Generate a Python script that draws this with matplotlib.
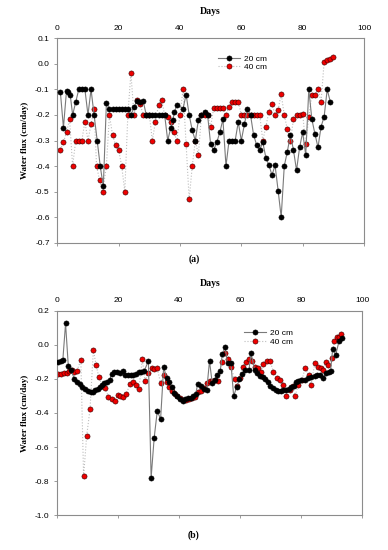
import matplotlib
matplotlib.use("Agg")
import matplotlib.pyplot as plt
from matplotlib.ticker import FormatStrFormatter

plt.rcParams['axes.unicode_minus'] = False

# (a) water flux, 20 cm depth
days_a20 = [1, 2, 3, 3.6, 4.2, 5, 6, 7, 8, 9, 10, 11, 12, 13, 14, 15, 16,
            17, 18, 19, 20, 21, 22, 23, 24, 25, 26, 27, 28, 29, 30,
            31, 32, 33, 34, 35, 36, 37, 37.6, 38.2, 39, 41, 42, 43, 44, 45,
            46, 47, 48, 49, 50, 51, 52, 53, 54, 55, 56, 57, 58, 59, 60,
            61, 62, 63, 64, 65, 66, 67, 68, 69, 70, 71, 72, 73, 74, 75,
            76, 77, 78, 79, 80, 81, 82, 83, 84, 85, 86, 87, 88, 89]
flux_a20 = [-0.11, -0.25, -0.105, -0.11, -0.12, -0.2, -0.15, -0.1, -0.1, -0.1,
            -0.2, -0.1, -0.2, -0.3, -0.4, -0.48, -0.155,
            -0.175, -0.175, -0.175, -0.175, -0.175, -0.175, -0.175, -0.2,
            -0.17, -0.145, -0.15, -0.145, -0.2, -0.2,
            -0.2, -0.2, -0.2, -0.2, -0.2, -0.3, -0.25, -0.22, -0.19, -0.16,
            -0.175, -0.12, -0.2, -0.26, -0.3,
            -0.22, -0.2, -0.19, -0.2, -0.315, -0.337, -0.307, -0.268, -0.217,
            -0.4, -0.3, -0.3, -0.3, -0.228, -0.3,
            -0.237, -0.178, -0.2, -0.278, -0.318, -0.337, -0.307, -0.367,
            -0.396, -0.436, -0.397, -0.496, -0.6, -0.4, -0.344,
            -0.278, -0.337, -0.417, -0.327, -0.268, -0.357, -0.1, -0.217,
            -0.274, -0.327, -0.246, -0.207, -0.1, -0.148]

# (a) water flux, 40 cm depth
days_a40 = [1, 2, 3, 4, 5, 6, 7, 8, 9, 10, 11, 12, 12.8, 13.8, 14.8, 16,
            17, 18, 19, 20, 21, 22, 23, 24, 25, 26, 27, 28, 29, 30,
            31, 32, 33, 34, 35, 36, 37, 38, 39, 40, 41, 42, 43, 44, 45,
            46, 47, 48, 49, 50, 51, 52, 53, 54, 55, 56, 57, 58, 59, 60,
            61, 62, 63, 64, 65, 66, 67, 68, 69, 70, 71, 72, 73, 74, 75,
            76, 77, 78, 79, 80, 81, 82, 83, 84, 85, 86, 87, 88, 89, 90]
flux_a40 = [-0.337, -0.307, -0.268, -0.217, -0.4, -0.3, -0.3, -0.3, -0.226,
            -0.3, -0.237, -0.178, -0.4, -0.456, -0.5, -0.4,
            -0.2, -0.278, -0.318, -0.338, -0.4, -0.5, -0.2, -0.036, -0.2,
            -0.14, -0.157, -0.2, -0.2, -0.2,
            -0.3, -0.226, -0.16, -0.14, -0.2, -0.207, -0.226, -0.268, -0.3,
            -0.2, -0.1, -0.315, -0.53, -0.4, -0.3,
            -0.357, -0.2, -0.2, -0.2, -0.246, -0.172, -0.172, -0.172, -0.172,
            -0.2, -0.168, -0.148, -0.148, -0.148, -0.2,
            -0.2, -0.2, -0.2, -0.2, -0.2, -0.2, -0.3, -0.246, -0.187, -0.157,
            -0.2, -0.18, -0.118, -0.2, -0.256,
            -0.3, -0.217, -0.2, -0.2, -0.195, -0.315, -0.207, -0.122, -0.122,
            -0.1, -0.148, 0.008, 0.015, 0.02, 0.026]

# (b) water flux, 20 cm depth
days_b20 = [0.5, 1.4, 2.0, 2.9, 3.8, 4.7, 5.8, 6.6, 7.5, 8.4, 9.3, 10.2, 11.1,
            11.8, 12.6, 13.4, 14.1, 14.9, 15.6, 16.5, 17.3, 18.0, 18.9, 19.8,
            20.7, 21.7, 22.5, 23.4, 24.2, 25.1, 26.0, 26.8, 27.7, 28.6, 30.0,
            30.9, 31.9, 32.9, 34.0, 35.0, 36.0, 36.8, 37.6, 38.5, 39.4, 40.3,
            41.2, 42.0, 42.9, 43.8, 44.7, 45.5, 46.1, 47.2, 48.1, 49.1, 50.0,
            50.9, 51.8, 52.6, 53.5, 54.2, 55.1, 55.9, 57.0, 57.9, 58.9, 59.8,
            60.7, 61.6, 62.9, 63.6, 64.8, 65.7, 66.5, 67.4, 68.2, 69.1, 69.9,
            70.8, 71.6, 72.5, 73.4, 74.2, 75.1, 76.0, 76.8, 77.5, 78.2, 79.1,
            80.1, 81.2, 82.3, 83.3, 84.4, 85.2, 86.0, 87.1, 88.2, 89.0, 89.6,
            90.3, 91.3, 92.4, 93.5]
flux_b20 = [-0.10, -0.095, -0.09, 0.125, -0.125, -0.15, -0.20, -0.218, -0.232,
            -0.248, -0.26, -0.27, -0.279, -0.277, -0.266, -0.257, -0.245,
            -0.235, -0.226, -0.216, -0.207, -0.171, -0.158, -0.158, -0.163,
            -0.155, -0.177, -0.178, -0.178, -0.178, -0.171, -0.158, -0.158,
            -0.155, -0.095, -0.78, -0.545, -0.39, -0.435, -0.13, -0.197, -0.22,
            -0.25, -0.28, -0.30, -0.32, -0.33, -0.32, -0.31, -0.31, -0.30,
            -0.29, -0.23, -0.242, -0.26, -0.265, -0.095, -0.226, -0.206,
            -0.177, -0.155, -0.054, -0.015, -0.109, -0.105, -0.30, -0.249,
            -0.20, -0.17, -0.15, -0.148, -0.05, -0.148, -0.166, -0.183, -0.19,
            -0.203, -0.22, -0.242, -0.255, -0.265, -0.27, -0.27, -0.268,
            -0.265, -0.26, -0.25, -0.24, -0.218, -0.215, -0.207, -0.205,
            -0.197, -0.19, -0.183, -0.18, -0.177, -0.197, -0.165, -0.16,
            -0.155, -0.025, -0.058, 0.022, 0.042]

# (b) water flux, 40 cm depth
days_b40 = [0.5, 1.4, 2.4, 3.3, 4.1, 5.0, 5.8, 6.6, 7.9, 8.8, 9.8, 10.9, 12.0,
            12.9, 13.8, 15.0, 15.9, 16.9, 18.0, 19.0, 19.9, 20.8, 21.8, 22.8,
            23.9, 24.9, 25.9, 26.9, 28.0, 28.9, 30.0, 31.1, 32.0, 32.9, 34.0,
            35.0, 36.0, 36.9, 37.7, 38.6, 39.5, 40.5, 41.4, 42.3, 43.2, 44.2,
            45.1, 46.1, 47.1, 48.1, 49.1, 50.0, 50.9, 51.8, 52.9, 54.0, 55.1,
            56.0, 57.0, 58.2, 58.9, 59.9, 60.9, 61.9, 62.9, 64.0, 64.9, 65.8,
            66.9, 67.6, 68.7, 69.8, 70.9, 72.0, 73.1, 74.2, 75.1, 76.2, 77.2,
            78.0, 79.1, 80.2, 81.3, 82.4, 83.2, 84.5, 85.6, 86.4, 87.2, 88.0,
            88.9, 90.0, 90.8, 91.6, 92.4, 93.0]
flux_b40 = [-0.171, -0.171, -0.167, -0.164, -0.155, -0.148, -0.158, -0.154,
            -0.089, -0.77, -0.535, -0.378, -0.03, -0.12, -0.19, -0.241, -0.255,
            -0.304, -0.32, -0.328, -0.296, -0.298, -0.308, -0.289, -0.232,
            -0.216, -0.235, -0.26, -0.085, -0.21, -0.167, -0.138, -0.142,
            -0.138, -0.226, -0.177, -0.216, -0.25, -0.269, -0.289, -0.30,
            -0.314, -0.325, -0.325, -0.32, -0.314, -0.306, -0.277, -0.269,
            -0.255, -0.226, -0.212, -0.212, -0.206, -0.212, -0.10, -0.05,
            -0.085, -0.128, -0.20, -0.242, -0.197, -0.128, -0.10, -0.085,
            -0.094, -0.128, -0.138, -0.158, -0.113, -0.095, -0.095, -0.158,
            -0.197, -0.207, -0.236, -0.298, -0.265, -0.242, -0.298, -0.236,
            -0.207, -0.138, -0.177, -0.236, -0.105, -0.128, -0.138, -0.148,
            -0.099, -0.118, -0.079, 0.024, 0.044, 0.048, 0.063]

series_labels = ["20 cm", "40 cm"]

W, H = 388, 550
fig = plt.figure(figsize=(W / 100, H / 100), dpi=100)

tick_font = "Liberation Sans"
label_font = "Liberation Serif"
spine_col = "#8c8c8c"


def make_panel(rect, d20, f20, d40, f40, ylim, yticks, leg_anchor):
    ax = fig.add_axes(rect)
    ax.plot(d20, f20, color="#7a7a7a", lw=0.8, ls="-", marker="o", ms=3.7,
            mfc="black", mec="black", mew=0.4, label=series_labels[0], zorder=3)
    ax.plot(d40, f40, color="#bdbdbd", lw=0.8, ls=":", marker="o", ms=3.7,
            mfc="#ee0000", mec="#330000", mew=0.4, label=series_labels[1], zorder=2)
    ax.set_xlim(0, 100)
    ax.set_ylim(*ylim)
    ax.set_xticks([0, 20, 40, 60, 80, 100])
    ax.set_yticks(yticks)
    ax.yaxis.set_major_formatter(FormatStrFormatter("%.1f"))
    ax.tick_params(axis="x", which="both", bottom=True, top=False,
                   labelbottom=False, labeltop=True, direction="out",
                   length=2.5, width=0.6, color=spine_col, labelsize=6, pad=2)
    ax.tick_params(axis="y", direction="out", length=2.5, width=0.6,
                   color=spine_col, labelsize=6, pad=3)
    for lab in ax.get_xticklabels() + ax.get_yticklabels():
        lab.set_fontfamily(tick_font)
    for s in ax.spines.values():
        s.set_color(spine_col)
        s.set_linewidth(0.8)
    ax.set_ylabel("Water flux (cm/day)", fontfamily=label_font,
                  fontweight="bold", fontsize=6.5, labelpad=4)
    ax.legend(loc="upper left", bbox_to_anchor=leg_anchor, frameon=False,
              prop={"family": tick_font, "size": 6}, handlelength=2.6,
              handletextpad=0.5, labelspacing=0.1, borderpad=0)
    return ax


ax_a = make_panel([57.3 / W, 1 - 242.7 / H, (364 - 57.3) / W, 204.4 / H],
                  days_a20, flux_a20, days_a40, flux_a40,
                  (-0.7, 0.1), [0.1, 0.0, -0.1, -0.2, -0.3, -0.4, -0.5, -0.6, -0.7],
                  (0.51, 0.94))
ax_b = make_panel([56.7 / W, 1 - 515.3 / H, (362.3 - 56.7) / W, 204.6 / H],
                  days_b20, flux_b20, days_b40, flux_b40,
                  (-1.0, 0.2), [0.2, 0.0, -0.2, -0.4, -0.6, -0.8, -1.0],
                  (0.6, 0.93))

fig.text(210 / W, 1 - 11 / H, "Days", ha="center", va="center",
         fontfamily=label_font, fontweight="bold", fontsize=7)
fig.text(210 / W, 1 - 284 / H, "Days", ha="center", va="center",
         fontfamily=label_font, fontweight="bold", fontsize=7)
fig.text(194 / W, 1 - 259 / H, "(a)", ha="center", va="center",
         fontfamily=label_font, fontweight="bold", fontsize=7)
fig.text(194 / W, 1 - 535 / H, "(b)", ha="center", va="center",
         fontfamily=label_font, fontweight="bold", fontsize=7)

fig.savefig("out.png", dpi=100)
